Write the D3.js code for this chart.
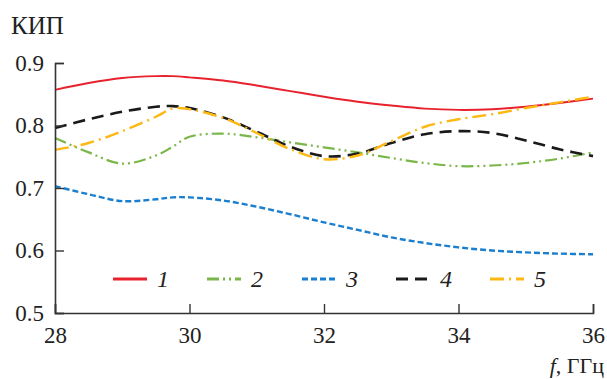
<!DOCTYPE html>
<html>
<head>
<meta charset="utf-8">
<script src="https://cdn.jsdelivr.net/npm/d3@7"></script>
</head>
<body style="margin:0;background:#fff">
<div id="chart"></div>
<script>
// values (frequency in GHz, КИП)
var freq = [28, 28.5, 29, 29.5, 29.75, 30, 30.5, 31, 31.5, 32, 32.5, 33, 33.5, 34, 34.5, 35, 35.5, 36];
var series1 = [0.857, 0.868, 0.876, 0.879, 0.879, 0.877, 0.872, 0.864, 0.855, 0.846, 0.838, 0.832, 0.827, 0.825, 0.826, 0.830, 0.836, 0.843];
var series2 = [0.780, 0.757, 0.739, 0.752, 0.766, 0.782, 0.787, 0.781, 0.773, 0.765, 0.757, 0.748, 0.740, 0.735, 0.736, 0.740, 0.747, 0.757];
var series3 = [0.703, 0.690, 0.679, 0.682, 0.685, 0.685, 0.680, 0.670, 0.658, 0.645, 0.633, 0.621, 0.612, 0.605, 0.600, 0.597, 0.595, 0.594];
var series4 = [0.796, 0.810, 0.822, 0.830, 0.831, 0.828, 0.813, 0.790, 0.766, 0.751, 0.755, 0.772, 0.786, 0.791, 0.788, 0.776, 0.762, 0.751];
var series5 = [0.761, 0.772, 0.791, 0.814, 0.827, 0.826, 0.812, 0.788, 0.762, 0.746, 0.752, 0.775, 0.798, 0.810, 0.818, 0.828, 0.837, 0.846];
var seriesNames = ['1', '2', '3', '4', '5'];
var xTicks = [28, 30, 32, 34, 36];
var yTicks = [0.5, 0.6, 0.7, 0.8, 0.9];

var FONT = '"Liberation Serif", "DejaVu Serif", serif';

var styles = [
  { color: '#e8222c', dash: null, width: 2 },
  { color: '#7ab648', dash: '12,4,2,4,2,4', width: 2.2 },
  { color: '#1b7fcf', dash: '6,3', width: 2.4 },
  { color: '#1a1a1a', dash: '12,7', width: 2.6 },
  { color: '#fdb813', dash: '14,5,2,5', width: 2.4 }
];

function draw () {
  var width = 607, height = 379;
  var margin = { left: 55, right: 14, top: 63, bottom: 66 };
  var svg = d3.select('#chart').append('svg')
    .attr('width', width)
    .attr('height', height)
    .style('font-family', FONT);

  var x = d3.scaleLinear().domain([28, 36]).range([margin.left, width - margin.right]);
  var y = d3.scaleLinear().domain([0.5, 0.9]).range([height - margin.bottom, margin.top]);

  var all = [series1, series2, series3, series4, series5];
  var line = d3.line()
    .x(function (d, i) { return x(freq[i]); })
    .y(function (d) { return y(d); })
    .curve(d3.curveCatmullRom.alpha(0.5));

  all.forEach(function (s, k) {
    svg.append('path')
      .datum(s)
      .attr('fill', 'none')
      .attr('stroke', styles[k].color)
      .attr('stroke-width', styles[k].width)
      .attr('stroke-dasharray', styles[k].dash)
      .attr('d', line);
  });

  // axes, ticks pointing inward
  var xAxis = d3.axisBottom(x).tickValues(xTicks).tickSize(-9).tickPadding(14).tickFormat(d3.format('d'));
  var yAxis = d3.axisLeft(y).tickValues(yTicks).tickSize(-9).tickPadding(11).tickFormat(d3.format('.1f'));

  var gx = svg.append('g')
    .attr('transform', 'translate(0,' + y(0.5) + ')')
    .call(xAxis);
  var gy = svg.append('g')
    .attr('transform', 'translate(' + x(28) + ',0)')
    .call(yAxis);
  [gx, gy].forEach(function (g) {
    g.attr('font-family', FONT);
    g.select('.domain').attr('stroke', '#333').attr('stroke-width', 1.6);
    g.selectAll('.tick line').attr('stroke', '#333').attr('stroke-width', 1.4);
    g.selectAll('.tick text')
      .style('font-family', FONT)
      .attr('font-size', 23)
      .attr('fill', '#222');
  });
  gx.selectAll('.tick text').attr('dy', '0.7em');

  svg.append('text')
    .attr('x', 11)
    .attr('y', 34)
    .style('font-family', FONT)
    .attr('font-size', 25)
    .attr('fill', '#222')
    .text('КИП');

  var xl = svg.append('text')
    .attr('x', 604)
    .attr('y', 373)
    .style('font-family', FONT)
    .attr('font-size', 22)
    .attr('fill', '#222')
    .attr('text-anchor', 'end');
  xl.append('tspan').attr('font-style', 'italic').text('f');
  xl.append('tspan').text(', ГГц');

  // legend
  var legX = [113, 207, 302, 396, 490];
  var legY = 279;
  seriesNames.forEach(function (name, k) {
    var g = svg.append('g');
    g.append('line')
      .attr('x1', legX[k]).attr('x2', legX[k] + 34)
      .attr('y1', legY).attr('y2', legY)
      .attr('stroke', styles[k].color)
      .attr('stroke-width', 3)
      .attr('stroke-dasharray', styles[k].dash);
    g.append('text')
      .attr('x', legX[k] + 44)
      .attr('y', legY + 8)
      .style('font-family', FONT)
      .attr('font-size', 24)
      .attr('font-style', 'italic')
      .attr('fill', '#222')
      .text(name);
  });
}

window.addEventListener('load', function () {
  draw();
});
</script>
</body>
</html>
